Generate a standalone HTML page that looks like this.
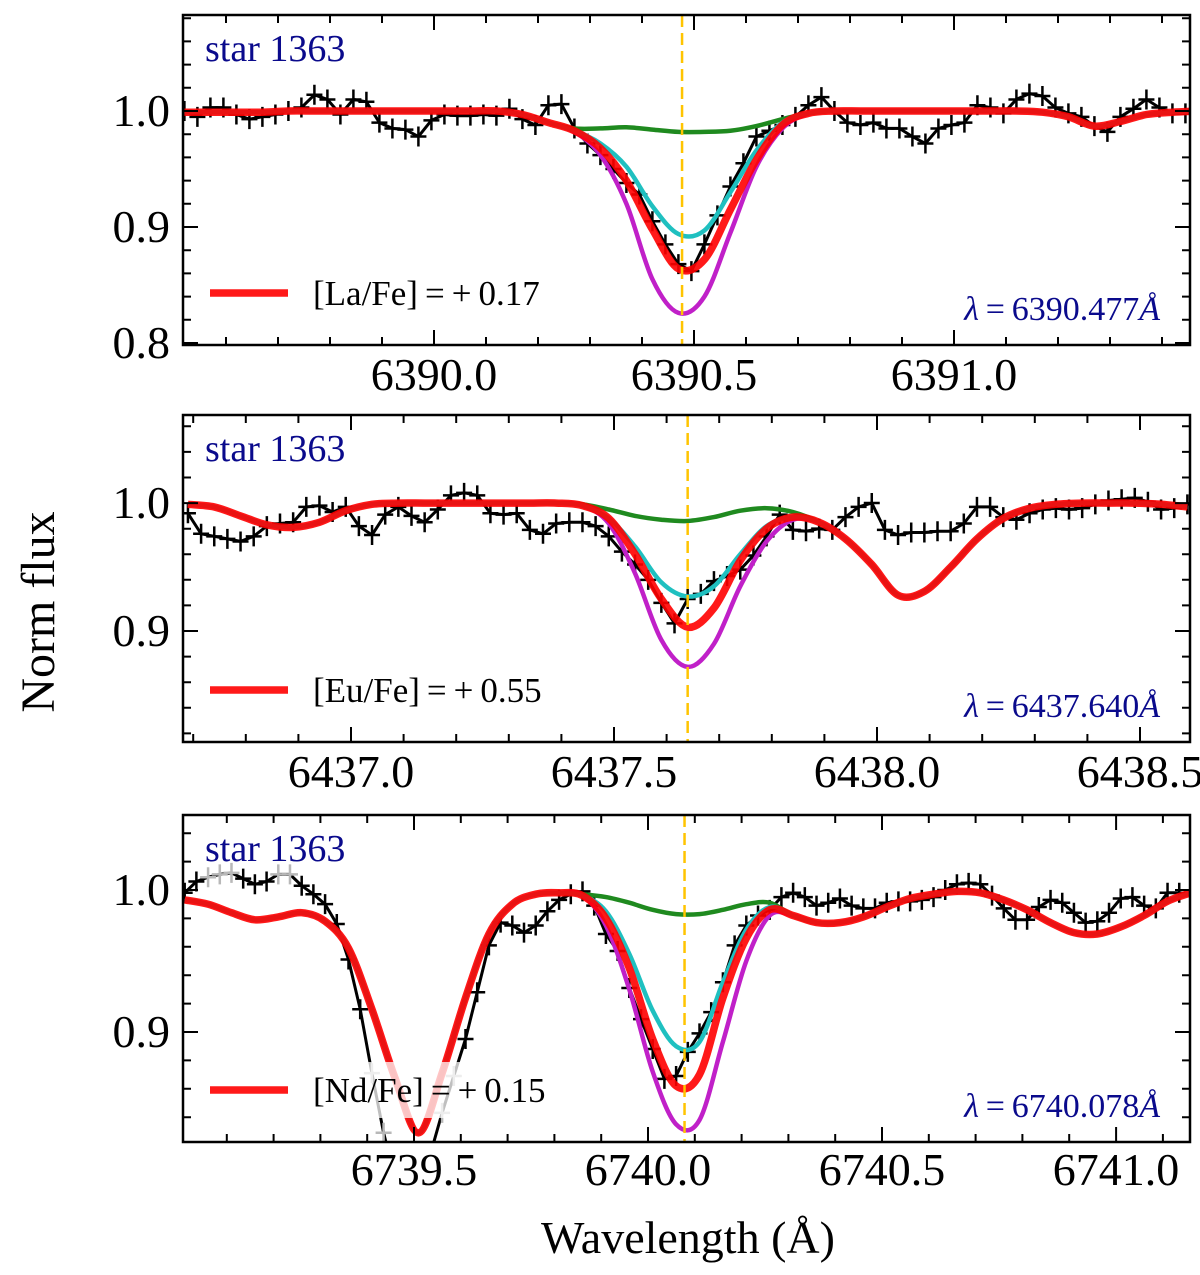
<!DOCTYPE html>
<html><head><meta charset="utf-8"><style>
html,body{margin:0;padding:0;background:#fff;}
svg{display:block;}
svg text{font-family:"Liberation Serif","DejaVu Serif",serif;}
</style></head><body>
<svg id="fig" width="1200" height="1275" viewBox="0 0 1200 1275" xmlns="http://www.w3.org/2000/svg"></svg>
<script>
// ---------- DATA ----------
const p1Domain=[6389.5173,6391.4538]; const p1YDomain=[0.7983,1.0828];
const p2Domain=[6436.6806,6438.595]; const p2YDomain=[0.8133,1.0688];
const p3Domain=[6739.0064,6741.158]; const p3YDomain=[0.8225,1.0528];
const p1XTicks=[6390.0,6390.5,6391.0]; const p1YTicks=[0.8,0.9,1.0];
const p2XTicks=[6437.0,6437.5,6438.0,6438.5]; const p2YTicks=[0.9,1.0];
const p3XTicks=[6739.5,6740.0,6740.5,6741.0]; const p3YTicks=[0.9,1.0];
const lineCenters=[6390.477,6437.640,6740.078];
const legendLabels=["[La/Fe]\u2009=\u2009+\u20090.17","[Eu/Fe]\u2009=\u2009+\u20090.55","[Nd/Fe]\u2009=\u2009+\u20090.15"];
const lambdaLabels=["6390.477","6437.640","6740.078"];
const obsStart=[6389.52,6436.69,6739.01]; const obsStep=0.025;
const modStart=[6389.52,6436.69,6739.01]; const modStep=0.05;

const p1Obs=[1.000,0.995,1.003,1.003,0.997,0.993,0.995,0.997,1.000,1.003,1.014,1.010,0.997,1.010,1.008,0.990,0.985,0.984,0.978,0.992,0.997,0.996,0.996,0.997,0.996,1.002,0.993,0.988,1.005,1.006,0.985,0.972,0.962,0.950,0.938,0.928,0.905,0.885,0.868,0.862,0.885,0.910,0.935,0.955,0.978,0.983,0.988,0.995,1.005,1.012,1.000,0.990,0.988,0.990,0.985,0.985,0.978,0.972,0.985,0.988,0.990,1.005,1.003,0.998,1.010,1.015,1.013,1.003,0.998,0.995,0.987,0.982,0.995,1.002,1.010,1.003,0.998,0.998];
const p1Red=[0.999,0.999,0.999,0.999,1.0,1.0,1.0,1.0,1.0,1.0,1.0,1.0,1.0,0.997,0.990,0.983,0.968,0.940,0.898,0.864,0.872,0.915,0.958,0.988,0.998,1.0,1.0,1.0,1.0,1.0,1.0,1.0,1.0,0.999,0.995,0.987,0.991,0.997,0.999,1.0];
const p1Green=[0.999,0.999,0.999,0.999,1.0,1.0,1.0,1.0,1.0,1.0,1.0,1.0,1.0,0.997,0.990,0.985,0.985,0.986,0.984,0.982,0.982,0.983,0.987,0.993,0.998,1.0,1.0,1.0,1.0,1.0,1.0,1.0,1.0,0.999,0.995,0.987,0.991,0.997,0.999,1.0];
const p1Cyan=[0.999,0.999,0.999,0.999,1.0,1.0,1.0,1.0,1.0,1.0,1.0,1.0,1.0,0.997,0.990,0.983,0.972,0.952,0.918,0.894,0.897,0.930,0.966,0.990,0.998,1.0,1.0,1.0,1.0,1.0,1.0,1.0,1.0,0.999,0.995,0.987,0.991,0.997,0.999,1.0];
const p1Magenta=[0.999,0.999,0.999,0.999,1.0,1.0,1.0,1.0,1.0,1.0,1.0,1.0,1.0,0.997,0.990,0.982,0.962,0.920,0.855,0.826,0.840,0.895,0.952,0.985,0.998,1.0,1.0,1.0,1.0,1.0,1.0,1.0,1.0,0.999,0.995,0.987,0.991,0.997,0.999,1.0];

const p2Obs=[0.992,0.976,0.974,0.972,0.970,0.974,0.982,0.984,0.985,0.997,0.998,0.993,0.997,0.982,0.975,0.991,0.997,0.990,0.985,0.995,1.006,1.008,1.006,0.992,0.991,0.992,0.979,0.976,0.984,0.985,0.985,0.982,0.974,0.962,0.952,0.940,0.922,0.906,0.925,0.929,0.939,0.943,0.948,0.959,0.974,0.991,0.979,0.978,0.980,0.979,0.989,0.997,1.000,0.979,0.975,0.977,0.977,0.978,0.978,0.984,0.997,0.997,0.989,0.987,0.992,0.995,0.996,0.995,0.996,0.999,1.002,1.003,1.004,1.001,0.995,0.996,0.999];
const p2Red=[0.999,0.997,0.990,0.983,0.981,0.985,0.994,0.999,1.0,1.0,1.0,1.0,1.0,1.0,1.0,0.998,0.988,0.960,0.925,0.903,0.918,0.955,0.980,0.989,0.985,0.972,0.952,0.928,0.931,0.950,0.972,0.988,0.996,0.999,1.0,1.0,1.0,0.999,0.997];
const p2Green=[0.999,0.997,0.990,0.983,0.981,0.985,0.994,0.999,1.0,1.0,1.0,1.0,1.0,1.0,1.0,0.999,0.995,0.990,0.987,0.986,0.989,0.994,0.996,0.993,0.985,0.972,0.952,0.928,0.931,0.950,0.972,0.988,0.996,0.999,1.0,1.0,1.0,0.999,0.997];
const p2Cyan=[0.999,0.997,0.990,0.983,0.981,0.985,0.994,0.999,1.0,1.0,1.0,1.0,1.0,1.0,1.0,0.998,0.988,0.966,0.938,0.927,0.935,0.960,0.982,0.989,0.985,0.972,0.952,0.928,0.931,0.950,0.972,0.988,0.996,0.999,1.0,1.0,1.0,0.999,0.997];
const p2Magenta=[0.999,0.997,0.990,0.983,0.981,0.985,0.994,0.999,1.0,1.0,1.0,1.0,1.0,1.0,1.0,0.998,0.984,0.945,0.893,0.872,0.890,0.935,0.970,0.987,0.985,0.972,0.952,0.928,0.931,0.950,0.972,0.988,0.996,0.999,1.0,1.0,1.0,0.999,0.997];

const p3Obs=[0.998,1.006,1.009,1.011,1.012,1.008,1.004,1.006,1.011,1.011,1.003,0.997,0.990,0.976,0.951,0.916,0.871,0.829,0.796,0.772,0.784,0.814,0.843,0.869,0.895,0.928,0.961,0.977,0.975,0.970,0.975,0.985,0.993,0.997,0.999,0.989,0.969,0.957,0.931,0.909,0.888,0.867,0.869,0.886,0.899,0.914,0.935,0.961,0.975,0.982,0.986,0.995,0.998,0.995,0.989,0.991,0.994,0.989,0.987,0.987,0.991,0.992,0.992,0.993,0.995,1.000,1.004,1.005,1.004,0.996,0.987,0.979,0.979,0.988,0.993,0.991,0.984,0.977,0.978,0.984,0.994,0.995,0.989,0.987,0.998,0.998];
const p3Masked=[0,0,1,1,1,0,0,0,1,1,0,0,0,0,0,0,1,1,1,1,1,1,1,1,0,0,0,0,0,0,0,0,0,0,0,0,0,0,0,0,0,0,0,0,0,0,0,0,0,0,0,0,0,0,0,0,0,0,0,0,0,0,0,0,0,0,0,0,0,0,0,0,0,0,0,0,0,0,0,0,0,0,0,0,0,0];
const p3Red=[0.993,0.990,0.984,0.979,0.981,0.984,0.978,0.959,0.916,0.867,0.829,0.871,0.924,0.969,0.990,0.997,0.998,0.996,0.980,0.945,0.895,0.862,0.870,0.924,0.966,0.986,0.982,0.977,0.977,0.981,0.988,0.994,0.997,0.999,0.998,0.993,0.986,0.977,0.970,0.969,0.974,0.982,0.992,0.998];
const p3Green=[0.993,0.990,0.984,0.979,0.981,0.984,0.978,0.959,0.916,0.867,0.829,0.871,0.924,0.969,0.990,0.997,0.998,0.997,0.995,0.991,0.986,0.983,0.983,0.986,0.990,0.991,0.982,0.977,0.977,0.981,0.988,0.994,0.997,0.999,0.998,0.993,0.986,0.977,0.970,0.969,0.974,0.982,0.992,0.998];
const p3Cyan=[0.993,0.990,0.984,0.979,0.981,0.984,0.978,0.959,0.916,0.867,0.829,0.871,0.924,0.969,0.990,0.997,0.998,0.996,0.985,0.955,0.915,0.890,0.893,0.935,0.972,0.988,0.982,0.977,0.977,0.981,0.988,0.994,0.997,0.999,0.998,0.993,0.986,0.977,0.970,0.969,0.974,0.982,0.992,0.998];
const p3Magenta=[0.993,0.990,0.984,0.979,0.981,0.984,0.978,0.959,0.916,0.867,0.829,0.871,0.924,0.969,0.990,0.997,0.998,0.996,0.975,0.930,0.872,0.835,0.838,0.893,0.950,0.982,0.982,0.977,0.977,0.981,0.988,0.994,0.997,0.999,0.998,0.993,0.986,0.977,0.970,0.969,0.974,0.982,0.992,0.998];

// ---------- LAYOUT ----------
const NS="http://www.w3.org/2000/svg";
const svg=document.getElementById('fig');
const boxes=[{l:183,r:1190,t:15,b:345,lab:45},{l:183,r:1190,t:415,b:742,lab:45},{l:183,r:1190,t:815,b:1142,lab:43}];
const panels=[
 {dom:p1Domain,ydom:p1YDomain,xt:p1XTicks,yt:p1YTicks,obs:p1Obs,mask:null,red:p1Red,green:p1Green,cyan:p1Cyan,mag:p1Magenta},
 {dom:p2Domain,ydom:p2YDomain,xt:p2XTicks,yt:p2YTicks,obs:p2Obs,mask:null,red:p2Red,green:p2Green,cyan:p2Cyan,mag:p2Magenta},
 {dom:p3Domain,ydom:p3YDomain,xt:p3XTicks,yt:p3YTicks,obs:p3Obs,mask:p3Masked,red:p3Red,green:p3Green,cyan:p3Cyan,mag:p3Magenta}
];
function el(tag,attrs,parent){const e=document.createElementNS(NS,tag);for(const k in attrs)e.setAttribute(k,attrs[k]);(parent||svg).appendChild(e);return e;}
function smoothPath(pts){
 let d='M'+pts[0][0].toFixed(1)+','+pts[0][1].toFixed(1);
 for(let i=0;i<pts.length-1;i++){
  const p0=pts[Math.max(0,i-1)],p1=pts[i],p2=pts[i+1],p3=pts[Math.min(pts.length-1,i+2)];
  const c1x=p1[0]+(p2[0]-p0[0])/6,c1y=p1[1]+(p2[1]-p0[1])/6;
  const c2x=p2[0]-(p3[0]-p1[0])/6,c2y=p2[1]-(p3[1]-p1[1])/6;
  d+=' C'+c1x.toFixed(1)+','+c1y.toFixed(1)+' '+c2x.toFixed(1)+','+c2y.toFixed(1)+' '+p2[0].toFixed(1)+','+p2[1].toFixed(1);
 }
 return d;
}

panels.forEach((P,k)=>{
 const B=boxes[k];
 const X=w=>B.l+(w-P.dom[0])/(P.dom[1]-P.dom[0])*(B.r-B.l);
 const Y=f=>B.b-(f-P.ydom[0])/(P.ydom[1]-P.ydom[0])*(B.b-B.t);
 const g=el('g',{});
 
 
 const cp=el('clipPath',{id:'clip'+k},g);
 el('rect',{x:B.l,y:B.t,width:B.r-B.l,height:B.b-B.t},cp);
 const plot=el('g',{'clip-path':'url(#clip'+k+')'},g);
 
 

 const opts=P.obs.map((f,i)=>[X(obsStart[k]+i*obsStep),Y(f)]);
 const oline=el('polyline',{points:opts.map(p=>p[0].toFixed(1)+','+p[1].toFixed(1)).join(' '),fill:'none',stroke:'#000','stroke-width':3},plot);
 
 
 opts.forEach((p,i)=>{
  const grey=P.mask&&P.mask[i];
  const m=el('path',{d:'M'+(p[0]-8)+','+p[1]+'h16M'+p[0]+','+(p[1]-10)+'v20',stroke:grey?'#b8b8b8':'#000','stroke-width':2.5,fill:'none'},plot);
  
  
 });
 const models=[['green','#1f8a1f',4.5,1],['magenta','#c020c8',4.5,1],['cyan','#1fc0c0',4.5,1],['red','#ff0000',7.5,0.9]];
 models.forEach(([nm,col,wd,op])=>{
  const arr={green:P.green,magenta:P.mag,cyan:P.cyan,red:P.red}[nm];
  const pts=arr.map((f,i)=>[X(modStart[k]+i*modStep),Y(f)]);
  const pa=el('path',{d:smoothPath(pts),fill:'none',stroke:col,'stroke-width':wd,'stroke-opacity':op,'stroke-linejoin':'round'},plot);
  
  
 });
 const lc=el('line',{x1:X(lineCenters[k]),x2:X(lineCenters[k]),y1:B.t,y2:B.b,stroke:'#ffc400','stroke-width':2.5,'stroke-dasharray':'12,6'},plot);
 
 
 const lgY=B.b-52;
 const lbg=el('rect',{x:193,y:lgY-28,width:365,height:56,fill:'#fff','fill-opacity':0.75},g);
 
 
 const ll=el('line',{x1:210,x2:288,y1:lgY,y2:lgY,stroke:'#ff0000','stroke-width':7.5,'stroke-opacity':0.9},g);
 
 
 const lt=el('text',{x:313,y:lgY+12,'font-size':35,fill:'#000'},g);
 lt.textContent=legendLabels[k];
 
 
 const st=el('text',{x:205,y:B.t+46,'font-size':38,fill:'#0a0a8c'},g);
 st.textContent='star 1363';
 
 
 const lam=el('text',{x:1160,y:B.b-25,'font-size':34,fill:'#0a0a8c','text-anchor':'end'},g);
 const t1=el('tspan',{'font-style':'italic'},lam); t1.textContent='\u03bb';
 const t2=el('tspan',{},lam); t2.textContent='\u2009=\u2009'+lambdaLabels[k];
 const t3=el('tspan',{'font-style':'italic'},lam); t3.textContent='\u00c5';
 
 
 let td='';
 for(let v=Math.ceil(P.dom[0]*10);v<=Math.floor(P.dom[1]*10);v++){
  const w=v/10, x=X(w).toFixed(1);
  const major=P.xt.some(t=>Math.abs(t-w)<1e-6);
  const L=major?15:8;
  td+='M'+x+','+B.b+'v'+(-L)+'M'+x+','+B.t+'v'+L;
 }
 for(let v=Math.ceil(P.ydom[0]*50);v<=Math.floor(P.ydom[1]*50);v++){
  const f=v/50, y=Y(f).toFixed(1);
  const major=P.yt.some(t=>Math.abs(t-f)<1e-6);
  const L=major?15:8;
  td+='M'+B.l+','+y+'h'+L+'M'+B.r+','+y+'h'+(-L);
 }
 const tk=el('path',{d:td,stroke:'#000','stroke-width':2,fill:'none'},g);
 
 
 const fr=el('rect',{x:B.l,y:B.t,width:B.r-B.l,height:B.b-B.t,fill:'none',stroke:'#000','stroke-width':2.5},g);
 
 
 P.xt.forEach(t=>{
  const tx=el('text',{x:X(t),y:B.b+B.lab,'font-size':46,'text-anchor':'middle',fill:'#000'},g);
  tx.textContent=t.toFixed(1);
  
  
 });
 P.yt.forEach(t=>{
  const ty=el('text',{x:170,y:Y(t)+15,'font-size':46,'text-anchor':'end',fill:'#000'},g);
  ty.textContent=t.toFixed(1);
  
  
 });
});
const yl=el('text',{x:0,y:0,'font-size':48,'text-anchor':'middle',fill:'#000',transform:'translate(54,612) rotate(-90)'});
yl.textContent='Norm flux';


const xl=el('text',{x:688,y:1253,'font-size':46,'text-anchor':'middle',fill:'#000'});
xl.textContent='Wavelength (\u00c5)';


</script>
</body></html>
